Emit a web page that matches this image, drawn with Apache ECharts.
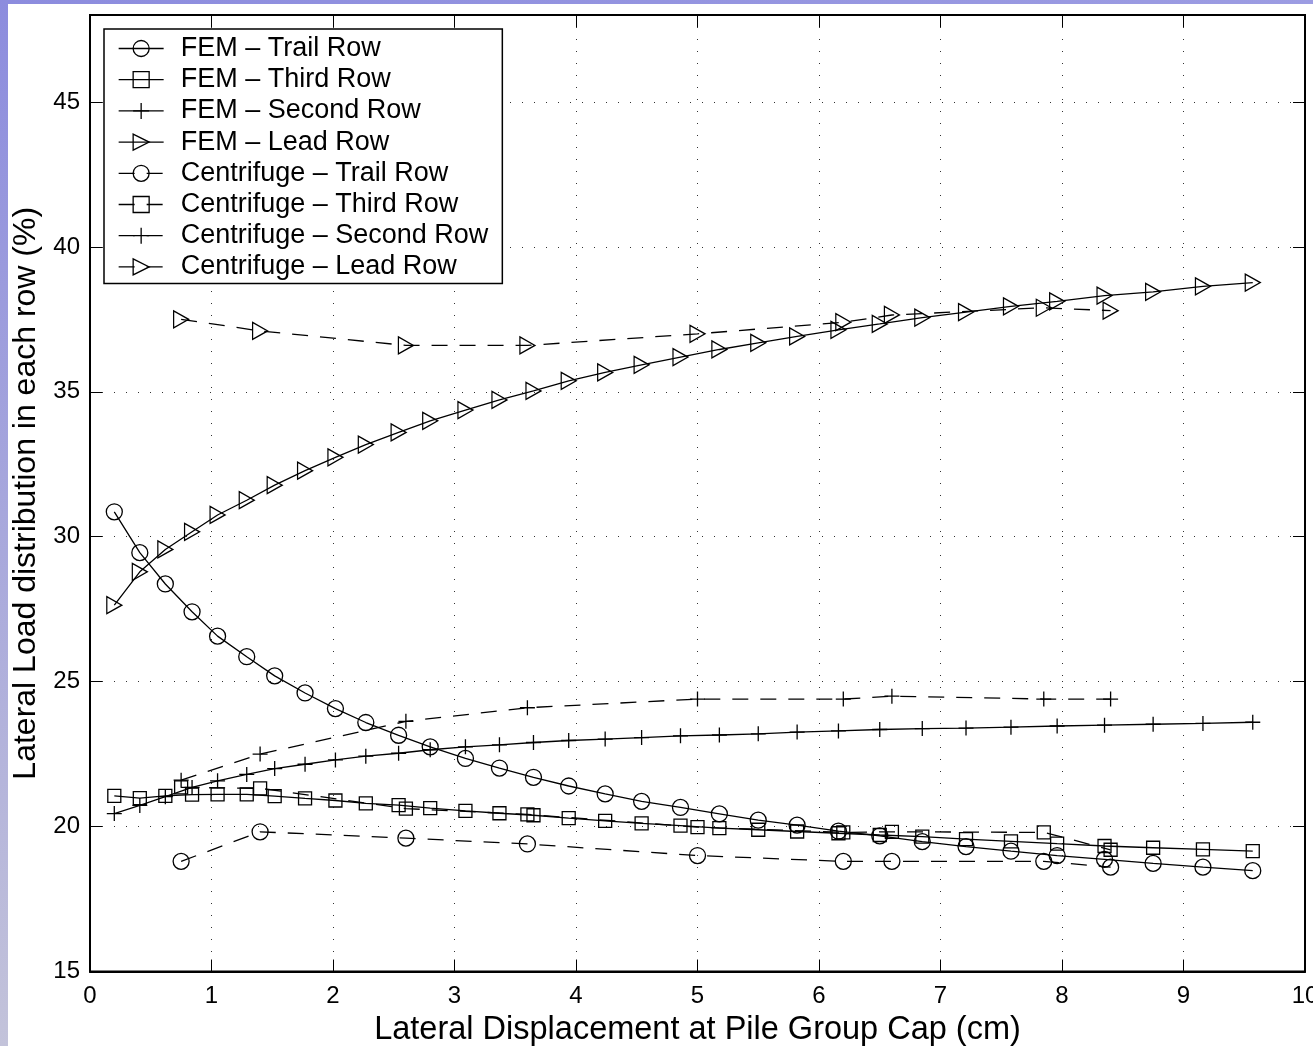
<!DOCTYPE html>
<html>
<head>
<meta charset="utf-8">
<title>Lateral load distribution per row</title>
<script src="https://cdn.jsdelivr.net/npm/echarts@6/dist/echarts.min.js"></script>
<style>
  html, body { margin: 0; padding: 0; background: #fff; }
  #chart { position: absolute; left: 0; top: 0; width: 1313px; height: 1046px; }
  #bandTop { position: absolute; left: 0; top: 0; width: 1313px; height: 4px; background: linear-gradient(90deg, #8c8cde, #9c9ce2); z-index: 2; }
  #bandLeft { position: absolute; left: 0; top: 0; width: 8px; height: 1046px; background: linear-gradient(180deg, #8c8cde, #c3c3da); z-index: 2; }
</style>
</head>
<body>
<div id="chart"></div>
<div id="bandTop"></div>
<div id="bandLeft"></div>
<script>
// FEM analysis: cap displacement (cm) and share of lateral load per row (%)
const FEM_X = [0.2, 0.41, 0.62, 0.84, 1.05, 1.29, 1.52, 1.77, 2.02, 2.27, 2.54, 2.8, 3.09, 3.37, 3.65, 3.94,
               4.24, 4.54, 4.86, 5.18, 5.5, 5.82, 6.16, 6.5, 6.85, 7.21, 7.58, 7.96, 8.35, 8.75, 9.16, 9.57];
const FEM_TRAIL = [30.86, 29.45, 28.37, 27.41, 26.57, 25.86, 25.2, 24.61, 24.07, 23.59, 23.15, 22.75, 22.35, 22.02, 21.7, 21.4,
                   21.13, 20.87, 20.66, 20.44, 20.22, 20.05, 19.84, 19.68, 19.48, 19.31, 19.15, 19.0, 18.87, 18.73, 18.6, 18.48];
const FEM_THIRD = [21.06, 20.98, 21.06, 21.1, 21.11, 21.11, 21.05, 20.97, 20.9, 20.8, 20.74, 20.64, 20.54, 20.46, 20.39, 20.29,
                   20.2, 20.11, 20.03, 19.95, 19.89, 19.83, 19.77, 19.71, 19.65, 19.57, 19.49, 19.41, 19.33, 19.27, 19.21, 19.15];
const FEM_SECOND = [20.45, 20.73, 21.03, 21.35, 21.58, 21.8, 22.0, 22.15, 22.3, 22.43, 22.53, 22.65, 22.75, 22.82, 22.9, 22.97,
                    23.02, 23.07, 23.13, 23.16, 23.2, 23.26, 23.3, 23.35, 23.38, 23.4, 23.43, 23.47, 23.5, 23.53, 23.56, 23.6];
const FEM_LEAD = [27.64, 28.79, 29.56, 30.17, 30.75, 31.26, 31.78, 32.28, 32.74, 33.18, 33.6, 34.0, 34.37, 34.72, 35.03, 35.38,
                  35.67, 35.93, 36.2, 36.46, 36.69, 36.91, 37.14, 37.34, 37.56, 37.75, 37.95, 38.12, 38.32, 38.45, 38.64, 38.77];

// Centrifuge test measurements
const CEN_X = [0.75, 1.4, 2.6, 3.6, 5.0, 6.2, 6.6, 7.85, 8.4];
const CEN_TRAIL = [18.8, 19.82, 19.6, 19.4, 19.0, 18.8, 18.8, 18.8, 18.6];
const CEN_THIRD = [21.35, 21.32, 20.62, 20.42, 19.98, 19.8, 19.82, 19.8, 19.2];
const CEN_SECOND = [21.6, 22.5, 23.63, 24.1, 24.4, 24.4, 24.5, 24.4, 24.4];
const CEN_LEAD = [37.5, 37.1, 36.6, 36.6, 37.0, 37.4, 37.65, 37.9, 37.8];

const SERIES_NAMES = [
  'FEM \u2013 Trail Row', 'FEM \u2013 Third Row', 'FEM \u2013 Second Row', 'FEM \u2013 Lead Row',
  'Centrifuge \u2013 Trail Row', 'Centrifuge \u2013 Third Row', 'Centrifuge \u2013 Second Row', 'Centrifuge \u2013 Lead Row'
];

const X_TICKS = [0, 1, 2, 3, 4, 5, 6, 7, 8, 9, 10];
const Y_TICKS = [15, 20, 25, 30, 35, 40, 45];

const FONT = '"Liberation Sans", Arial, Helvetica, sans-serif';
const LINE_W = 1.3;
const DASH = [16, 12];

// hollow marker shapes
const SYM = {
  circle: { symbol: 'circle', size: 16 },
  square: { symbol: 'rect', size: 13 },
  plus: { symbol: 'path://M5,0L5,10M0,5L10,5', size: 15 },
  tri: { symbol: 'path://M0,0L12,7L0,14Z', size: [15, 17] }
};

function pairs(xs, ys) { return xs.map((x, i) => [x, ys[i]]); }

function makeSeries(name, xs, ys, shape, dashed) {
  return {
    name: name,
    type: 'line',
    data: pairs(xs, ys),
    symbol: shape.symbol,
    symbolSize: shape.size,
    showAllSymbol: true,
    silent: true,
    animation: false,
    lineStyle: { color: '#000', width: LINE_W, type: dashed ? DASH : 'solid' },
    itemStyle: { color: 'transparent', borderColor: '#000', borderWidth: LINE_W },
    emphasis: { disabled: true }
  };
}

const series = [
  makeSeries(SERIES_NAMES[0], FEM_X, FEM_TRAIL, SYM.circle, false),
  makeSeries(SERIES_NAMES[1], FEM_X, FEM_THIRD, SYM.square, false),
  makeSeries(SERIES_NAMES[2], FEM_X, FEM_SECOND, SYM.plus, false),
  makeSeries(SERIES_NAMES[3], FEM_X, FEM_LEAD, SYM.tri, false),
  makeSeries(SERIES_NAMES[4], CEN_X, CEN_TRAIL, SYM.circle, true),
  makeSeries(SERIES_NAMES[5], CEN_X, CEN_THIRD, SYM.square, true),
  makeSeries(SERIES_NAMES[6], CEN_X, CEN_SECOND, SYM.plus, true),
  makeSeries(SERIES_NAMES[7], CEN_X, CEN_LEAD, SYM.tri, true)
];

const legendData = SERIES_NAMES.map((n, i) => ({
  name: n,
  itemStyle: { color: 'transparent', borderColor: '#000', borderWidth: LINE_W },
  lineStyle: { color: '#000', width: LINE_W, type: i >= 4 ? DASH : 'solid' }
}));

// inward tick marks on all four sides of the box
function ticks() {
  return { show: true, inside: true, length: 12, lineStyle: { color: '#000', width: 1 } };
}
function dotted() {
  return { show: true, lineStyle: { color: '#333', width: 1, type: [1, 11] } };
}

const chart = echarts.init(document.getElementById('chart'), null, { renderer: 'canvas' });
chart.setOption({
  animation: false,
  backgroundColor: '#fff',
  textStyle: { fontFamily: FONT },
  grid: {
    left: 90, top: 15, right: 8, bottom: 74.5,
    outerBoundsMode: 'none',
    containLabel: false,
    show: true, borderColor: '#000', borderWidth: 2, backgroundColor: 'transparent'
  },
  legend: {
    orient: 'vertical',
    left: 104,
    top: 29,
    padding: [6, 14, 3, 14],
    backgroundColor: '#fff',
    borderColor: '#000',
    borderWidth: 1.5,
    itemWidth: 45,
    itemHeight: 20,
    itemGap: 4.2,
    selectedMode: false,
    textStyle: { fontSize: 27, color: '#000', fontFamily: FONT, padding: [0, 0, 0, 12] },
    data: legendData
  },
  xAxis: [{
    type: 'value',
    min: X_TICKS[0], max: X_TICKS[X_TICKS.length - 1], interval: 1,
    position: 'bottom',
    axisLine: { show: true, onZero: false, lineStyle: { color: '#000', width: 2 } },
    axisTick: ticks(),
    splitLine: dotted(),
    axisLabel: { show: true, inside: false, color: '#000', fontSize: 24, fontFamily: FONT, margin: 13, showMinLabel: true, showMaxLabel: true },
    name: 'Lateral Displacement at Pile Group Cap (cm)',
    nameLocation: 'middle',
    nameGap: 41,
    nameTextStyle: { color: '#000', fontSize: 32.5, fontFamily: FONT }
  }, {
    type: 'value',
    min: X_TICKS[0], max: X_TICKS[X_TICKS.length - 1], interval: 1,
    position: 'top',
    axisLine: { show: true, onZero: false, lineStyle: { color: '#000', width: 2 } },
    axisTick: ticks(),
    splitLine: { show: false },
    axisLabel: { show: false }
  }],
  yAxis: [{
    type: 'value',
    min: Y_TICKS[0], max: 48, interval: 5,
    position: 'left',
    axisLine: { show: true, onZero: false, lineStyle: { color: '#000', width: 2 } },
    axisTick: ticks(),
    splitLine: dotted(),
    axisLabel: {
      inside: false,
      color: '#000', fontSize: 24, fontFamily: FONT, margin: 10, showMaxLabel: false,
      formatter: v => (Y_TICKS.indexOf(v) >= 0 ? String(v) : '')
    },
    name: 'Lateral Load distribution in each row (%)',
    nameLocation: 'middle',
    nameGap: 44,
    nameTextStyle: { color: '#000', fontSize: 32, fontFamily: FONT }
  }, {
    type: 'value',
    min: Y_TICKS[0], max: 48, interval: 5,
    position: 'right',
    axisLine: { show: true, onZero: false, lineStyle: { color: '#000', width: 2 } },
    axisTick: ticks(),
    splitLine: { show: false },
    axisLabel: { show: false }
  }],
  series: series
});
</script>
</body>
</html>
